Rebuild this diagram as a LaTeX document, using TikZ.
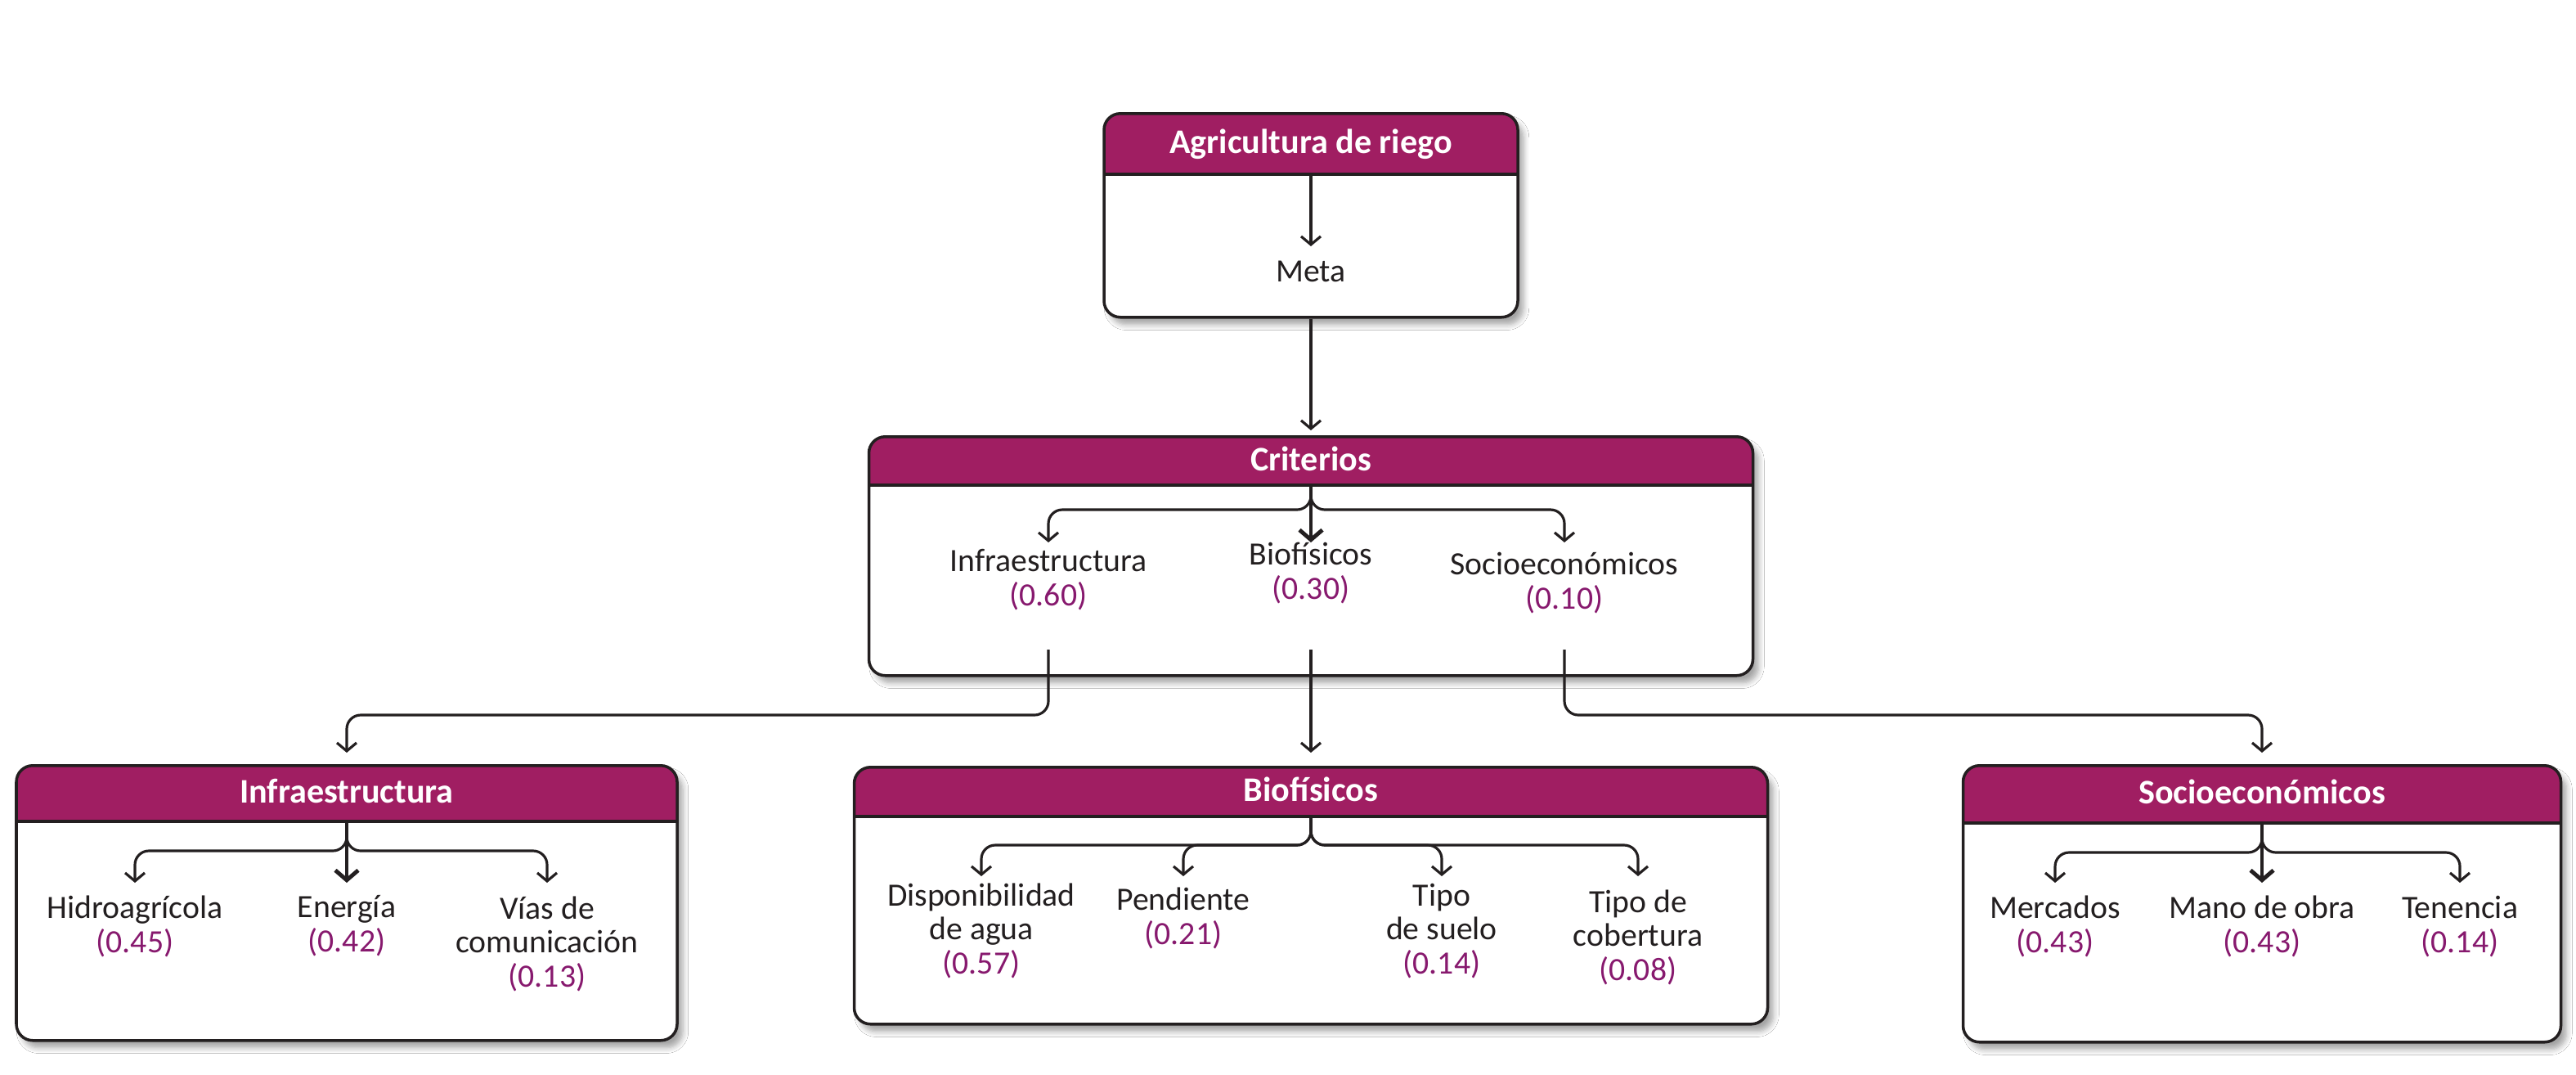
\documentclass[tikz,border=0pt]{standalone}
\usepackage{fontspec}
\setmainfont{Carlito}
\usetikzlibrary{arrows.meta,shadows.blur}
\definecolor{headcol}{RGB}{160,30,98}
\definecolor{numcol}{RGB}{135,25,110}
\definecolor{ink}{RGB}{35,31,32}
\def\W#1{\textcolor{numcol}{(#1)}}

\begin{document}
\begin{tikzpicture}[font=\fontsize{11.3}{11.7}\selectfont,
    >={Straight Barb[length=1mm,width=2.4mm]},
    panel/.style={draw=ink, line width=1pt, fill=white, rounded corners=2mm, inner sep=0pt, anchor=north,
        blur shadow={shadow xshift=0.7mm, shadow yshift=-0.9mm, shadow blur steps=6, shadow opacity=35},
        path picture={
            \fill[headcol, sharp corners] (path picture bounding box.north west) rectangle ([yshift=-#1]path picture bounding box.north east);
            \draw[ink, line width=1pt, sharp corners] ([yshift=-#1]path picture bounding box.north west) -- ([yshift=-#1]path picture bounding box.north east);
        }},
    title/.style={text=white, font=\fontsize{12}{14}\selectfont\bfseries, text height=0.27cm, text depth=0pt, inner sep=0pt},
    lab/.style={align=center, inner sep=0pt, anchor=base, text=ink},
    arr/.style={->, draw=ink, line width=0.9pt, rounded corners=1.7mm},
    arrc/.style={-{Straight Barb[length=1.2mm,width=2.8mm,line width=1.4pt]}, draw=ink, line width=0.9pt}]

    \useasboundingbox (0,0) rectangle (31.5,-13.13);
    \fill[white] (0,0) rectangle (31.5,-13.13);

    % meta
    \node[panel=0.74cm, minimum width=5.06cm, minimum height=2.49cm] (meta) at (16.03,-1.37) {};
    \node[title] (meta-t) at ([yshift=-0.37cm]meta.north) {Agricultura de riego};
    \coordinate (meta-h) at ([yshift=-0.74cm]meta.north);
    \node[lab] (meta-g) at (16.03,-3.44) {Meta};
    \draw[arr] (meta-h) -- ([yshift=4.3mm]meta-g.base);

    % criterios
    \node[panel=0.59cm, minimum width=10.81cm, minimum height=2.92cm] (crit) at (16.03,-5.32) {};
    \node[title] (crit-t) at ([yshift=-0.30cm]crit.north) {Criterios};
    \coordinate (crit-h) at ([yshift=-0.59cm]crit.north);
    \coordinate (crit-tip) at (0,-6.63);
    \coordinate (crit-out) at (0,-7.94);
    \draw[arr, shorten >=0.6mm] (meta) -- (crit);

    \node[lab] (c-infra) at (12.82,-7.40) {Infraestructura\\\W{0.60}};
    \node[lab] (c-bio) at (16.03,-7.32) {Biofísicos\\\W{0.30}};
    \node[lab] (c-soc) at (19.13,-7.44) {Socioeconómicos\\\W{0.10}};
    \draw[arr] (crit-h) -- ++(0,-0.32) -| (c-infra.north |- crit-tip);
    \draw[arrc] (crit-h) -- (c-bio.north |- crit-tip);
    \draw[arr] (crit-h) -- ++(0,-0.32) -| (c-soc.north |- crit-tip);

    % infraestructura
    \node[panel=0.68cm, minimum width=8.08cm, minimum height=3.36cm] (infra) at (4.24,-9.34) {};
    \node[title] (infra-t) at ([yshift=-0.34cm]infra.north) {Infraestructura};
    \coordinate (infra-h) at ([yshift=-0.68cm]infra.north);
    \coordinate (infra-tip) at (0,-10.79);
    \node[lab] (hidro) at (1.65,-11.64) {Hidroagrícola\\\W{0.45}};
    \node[lab] (energia) at (4.24,-11.63) {Energía\\\W{0.42}};
    \node[lab] (vias) at (6.69,-12.06) {Vías de\\comunicación\\\W{0.13}};
    \draw[arr] (infra-h) -- ++(0,-0.38) -| (hidro.north |- infra-tip);
    \draw[arrc] (infra-h) -- (energia.north |- infra-tip);
    \draw[arr] (infra-h) -- ++(0,-0.38) -| (vias.north |- infra-tip);

    % biofisicos
    \node[panel=0.60cm, minimum width=11.17cm, minimum height=3.14cm] (bio) at (16.03,-9.36) {};
    \node[title] (bio-t) at ([yshift=-0.30cm]bio.north) {Biofísicos};
    \coordinate (bio-h) at ([yshift=-0.60cm]bio.north);
    \coordinate (bio-tip) at (0,-10.71);
    \node[lab] (agua) at (12.00,-11.90) {Disponibilidad\\de agua\\\W{0.57}};
    \node[lab] (pend) at (14.47,-11.54) {Pendiente\\\W{0.21}};
    \node[lab] (suelo) at (17.63,-11.90) {Tipo\\de suelo\\\W{0.14}};
    \node[lab] (cober) at (20.03,-11.98) {Tipo de\\cobertura\\\W{0.08}};
    \draw[arr] (bio-h) -- ++(0,-0.37) -| (agua.north |- bio-tip);
    \draw[arr] (bio-h) -- ++(0,-0.37) -| (pend.north |- bio-tip);
    \draw[arr] (bio-h) -- ++(0,-0.37) -| (suelo.north |- bio-tip);
    \draw[arr] (bio-h) -- ++(0,-0.37) -| (cober.north |- bio-tip);

    % socioeconomicos
    \node[panel=0.70cm, minimum width=7.31cm, minimum height=3.38cm] (socio) at (27.66,-9.34) {};
    \node[title] (socio-t) at ([yshift=-0.35cm]socio.north) {Socioeconómicos};
    \coordinate (socio-h) at ([yshift=-0.70cm]socio.north);
    \coordinate (socio-tip) at (0,-10.79);
    \node[lab] (merc) at (25.13,-11.64) {Mercados\\\W{0.43}};
    \node[lab] (mano) at (27.66,-11.64) {Mano de obra\\\W{0.43}};
    \node[lab] (ten) at (30.08,-11.64) {Tenencia\\\W{0.14}};
    \draw[arr] (socio-h) -- ++(0,-0.38) -| (merc.north |- socio-tip);
    \draw[arrc] (socio-h) -- (mano.north |- socio-tip);
    \draw[arr] (socio-h) -- ++(0,-0.38) -| (ten.north |- socio-tip);

    % criterios hacia los grupos
    \draw[arr, shorten >=1.4mm] (c-infra.south |- crit-out) -- ++(0,-0.8) -| (infra.north);
    \draw[arr, shorten >=1.6mm] (c-bio.south |- crit-out) -- (bio.north);
    \draw[arr, shorten >=1.4mm] (c-soc.south |- crit-out) -- ++(0,-0.8) -| (socio.north);
\end{tikzpicture}
\end{document}
